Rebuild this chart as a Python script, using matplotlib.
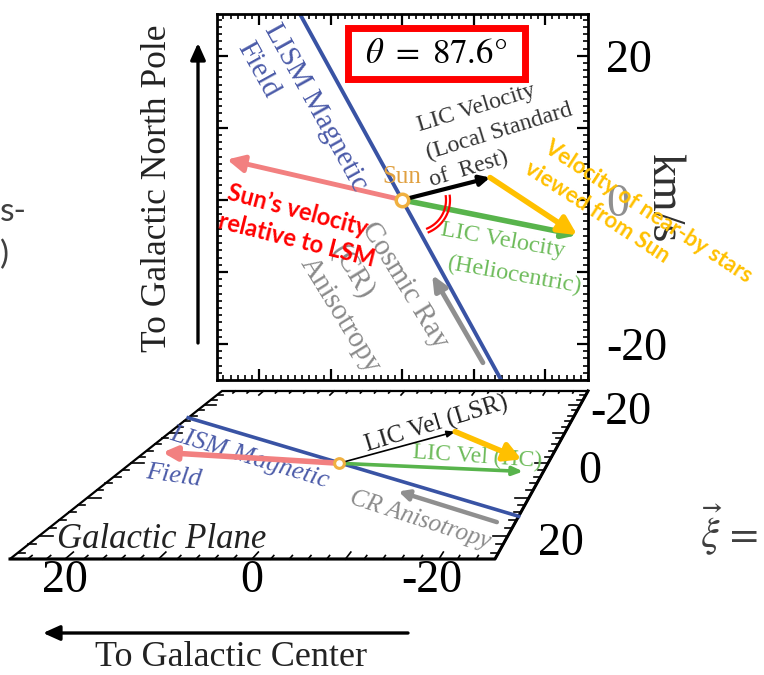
import matplotlib
matplotlib.use('agg')
import matplotlib.pyplot as plt
from matplotlib.patches import Rectangle, Polygon
from matplotlib.ticker import MultipleLocator
import numpy as np

plt.rcParams['font.family'] = 'Liberation Serif'
plt.rcParams['mathtext.fontset'] = 'stix'

# upper panel: horizontal (x, reversed) vs galactic north (y), km/s
sun_vel = [24.5, 5.6]        # Sun's velocity relative to LSR
lic_lsr = [-12.3, 3.1]       # LIC velocity (local standard of rest)
lic_hc = [-24.5, -4.9]       # LIC velocity (heliocentric)
cr_tail = [-11.3, -22.6]     # cosmic ray anisotropy arrow
cr_head = [-4.2, -10.4]
field_dir = [14.3, 25.8]     # LISM magnetic field direction
theta_deg = 87.6
ytick_vals = [20, 10, 0, -10, -20]
ytick_text = ['20', '', '0', '', '-20']

# lower panel: galactic plane, (x, z) km/s
sun_vel_p = [23.6, -3.4]
lic_lsr_p = [-11.5, -10.3]
lic_hc_p = [-23.5, 2.5]
stars_tip_p = [-22.4, -1.2]
cr_tail_p = [-23.9, 16.5]
cr_head_p = [-10.1, 8.3]
field_p = [[25.9, -15.2], [-26.0, 15.0]]
xtick_p = [20, 0, -20]
ztick_p = [-20, 0, 20]

BLUE = '#3953a4'
BLUE_T = '#4a5aa8'
PINK = '#f28080'
GREEN = '#58b44c'
GREEN_T = '#6dbb5a'
ORANGE = '#ffc000'
GRAY = '#8f8f8f'
GRAY_T = '#8a8a8a'

fig = plt.figure(figsize=(7.64, 6.75), dpi=100)

# background axes in pixel coordinates
axb = fig.add_axes([0, 0, 1, 1])
axb.set_xlim(0, 764)
axb.set_ylim(675, 0)
axb.axis('off')

# ---- perspective mapping for the galactic plane panel ----
TL = np.array([222., 391.]); TR = np.array([588., 391.])
BR = np.array([495., 559.]); BL = np.array([10., 559.])
XL, XR = 25.9, -26.0
ZB, ZF = -25.4, 25.4
w0, w1 = 1 / 366., 1 / 485.

def plane(x, z):
    u = (XL - x) / (XL - XR)
    v = (z - ZB) / (ZF - ZB)
    top = TL + u * (TR - TL)
    bot = BL + u * (BR - BL)
    a = (1 - v) * w0
    b = v * w1
    return (a * top + b * bot) / (a + b)

corners = [plane(XL, ZB), plane(XR, ZB), plane(XR, ZF), plane(XL, ZF)]
axb.add_patch(Polygon(corners, closed=True, fc='white', ec='black', lw=1.6, zorder=1))
axb.plot([corners[1][0], corners[2][0], corners[3][0]],
         [corners[1][1], corners[2][1], corners[3][1]], color='black', lw=2.2, zorder=2)

# edge ticks
for xv in np.arange(-24, 25, 2):
    ln = 1.6 if xv % 10 == 0 else 0.8
    for z0, dz in [(ZB, ln), (ZF, -ln)]:
        p, q = plane(xv, z0), plane(xv, z0 + dz)
        axb.plot([p[0], q[0]], [p[1], q[1]], color='black', lw=1.2, zorder=2)
for zv in np.arange(-24, 25, 2):
    ln = 1.6 if zv % 10 == 0 else 0.8
    for x0, dx in [(XL, -ln), (XR, ln)]:
        p, q = plane(x0, zv), plane(x0 + dx, zv)
        axb.plot([p[0], q[0]], [p[1], q[1]], color='black', lw=1.2, zorder=2)

for xv in xtick_p:
    p = plane(xv, ZF)
    axb.text(p[0] - (7 if xv < 0 else 0), p[1] + 22, str(xv), fontsize=33,
             ha='center', va='center')
for zv in ztick_p:
    p = plane(XR, zv)
    axb.text(p[0] + 30 - (20 if zv < 0 else 0), p[1] + 8, str(zv), fontsize=33,
             ha='left', va='center')

# field line and vectors in the plane
f0, f1 = plane(*field_p[0]), plane(*field_p[1])
axb.plot([f0[0], f1[0]], [f0[1], f1[1]], color=BLUE, lw=2.6, zorder=3)

def parrow(tail, tip, color, lw, hl, hw, z=4):
    t, h = plane(*tail), plane(*tip)
    axb.annotate('', xy=h, xytext=t, zorder=z,
                 arrowprops=dict(arrowstyle='-|>,head_length=%g,head_width=%g' % (hl, hw),
                                 color=color, lw=lw, shrinkA=0, shrinkB=0))

parrow([0, 0], sun_vel_p, PINK, 4.0, 0.8, 0.4)
parrow([0, 0], lic_hc_p, GREEN, 2.6, 0.6, 0.25)
parrow([0, 0], lic_lsr_p, 'black', 1.2, 0.5, 0.2)
parrow(lic_lsr_p, stars_tip_p, ORANGE, 4.0, 1.0, 0.55, z=5)
parrow(cr_tail_p, cr_head_p, GRAY, 3.2, 0.6, 0.3)
s = plane(0, 0)
axb.plot(s[0], s[1], 'o', ms=7, mfc='white', mec='#f0b040', mew=2.2, zorder=6)

axb.text(250, 458, 'LISM Magnetic', color=BLUE_T, fontsize=19, style='italic',
         rotation=-17, ha='center', va='center', rotation_mode='anchor', zorder=3)
axb.text(174, 476, 'Field', color=BLUE_T, fontsize=19, style='italic',
         rotation=-8, ha='center', va='center', rotation_mode='anchor', zorder=3)
axb.text(437, 424, 'LIC Vel (LSR)', color='#222222', fontsize=18,
         rotation=17, ha='center', va='center', rotation_mode='anchor', zorder=3)
axb.text(477, 457, 'LIC Vel (HC)', color=GREEN_T, fontsize=17,
         rotation=-4, ha='center', va='center', rotation_mode='anchor', zorder=3)
axb.text(420, 520, 'CR Anisotropy', color=GRAY_T, fontsize=18, style='italic',
         rotation=-18, ha='center', va='center', rotation_mode='anchor', zorder=3)
axb.text(162, 540, 'Galactic Plane', color='#222222', fontsize=25, style='italic',
         ha='center', va='center', zorder=3)

# outside labels and direction arrows
axb.text(157, 188, 'To Galactic North Pole', fontsize=25.5, rotation=90,
         ha='center', va='center', color='#222222')
axb.annotate('', xy=(198, 43), xytext=(198, 343),
             arrowprops=dict(arrowstyle='-|>,head_length=1.0,head_width=0.45',
                             color='black', lw=2.4, shrinkA=0, shrinkB=0))
axb.text(231, 657, 'To Galactic Center', fontsize=26, ha='center', va='center',
         color='#222222')
axb.annotate('', xy=(43, 633), xytext=(408, 633),
             arrowprops=dict(arrowstyle='-|>,head_length=1.0,head_width=0.45',
                             color='black', lw=2.4, shrinkA=0, shrinkB=0))
axb.text(663, 198, 'km/s', fontsize=33, rotation=270, ha='center', va='center',
         color='#303030')
axb.text(0, 212, 's-', fontsize=24, family='Lato', ha='left', va='center', color='#404040')
axb.text(0, 255, ')', fontsize=24, family='Lato', ha='left', va='center', color='#404040')
axb.text(700, 530, r'$\vec{\xi}\,=$', fontsize=30, ha='left', va='center', color='#404040')

# ---- upper panel as a real axes ----
ax = fig.add_axes([217 / 764, 1 - 380 / 675, 371 / 764, 366 / 675])
ax.set_xlim(25.9, -26.0)
ax.set_ylim(-25.0, 25.8)
ax.xaxis.set_major_locator(MultipleLocator(10))
ax.xaxis.set_minor_locator(MultipleLocator(1))
ax.set_yticks(ytick_vals)
ax.set_yticklabels(ytick_text)
ax.yaxis.set_minor_locator(MultipleLocator(1))
ax.tick_params(which='both', direction='in', top=True, bottom=True, left=True, right=True,
               labelbottom=False, labelleft=False, labelright=True)
ax.tick_params(which='major', length=8, width=1.6, pad=13, labelsize=33)
ax.tick_params(which='minor', length=3.5, width=1.2)
for sp in ax.spines.values():
    sp.set_linewidth(2.0)
for lab in ax.get_yticklabels():
    if lab.get_text() == '0':
        lab.set_color('#909090')

ax.plot([field_dir[0], -field_dir[0]], [field_dir[1], -field_dir[1]], color=BLUE, lw=2.8, zorder=2)

def uarrow(tail, tip, color, lw, hl, hw, z=4):
    ax.annotate('', xy=tip, xytext=tail, zorder=z,
                arrowprops=dict(arrowstyle='-|>,head_length=%g,head_width=%g' % (hl, hw),
                                color=color, lw=lw, shrinkA=0, shrinkB=0))

uarrow([0, 0], sun_vel, PINK, 3.5, 1.0, 0.5)
uarrow([0, 0], lic_hc, GREEN, 4.0, 0.8, 0.35)
uarrow([0, 0], lic_lsr, 'black', 3.0, 0.6, 0.3)
uarrow(lic_lsr, lic_hc, ORANGE, 4.0, 1.1, 0.55, z=5)
uarrow(cr_tail, cr_head, GRAY, 3.5, 0.9, 0.4)
ax.plot(0, 0, 'o', ms=9, mfc='white', mec='#f0b040', mew=2.5, zorder=6)

# ---- overlay texts (pixel coordinates) ----
axt = fig.add_axes([0, 0, 1, 1], zorder=10)
axt.set_xlim(0, 764)
axt.set_ylim(675, 0)
axt.axis('off')

def label(x, y, s, color, size, rot, **kw):
    axt.text(x, y, s, color=color, fontsize=size, rotation=rot, ha='center', va='center',
             rotation_mode='anchor', **kw)

label(316, 107, 'LISM Magnetic', BLUE_T, 21, -61)
label(258, 70, 'Field', BLUE_T, 21, -61)
label(402, 177, 'Sun', '#e0a040', 18, 0)
label(476, 108, 'LIC Velocity', '#333333', 17, 17)
label(499, 132, '(Local Standard', '#333333', 17, 17)
label(469, 169, 'of  Rest)', '#333333', 17, 17)
label(503, 241, 'LIC Velocity', GREEN_T, 17.5, -10)
label(515, 275, '(Heliocentric)', GREEN_T, 17.5, -10)
label(405, 285, 'Cosmic Ray', GRAY_T, 21, -58.5)
label(352, 272, '(CR)', GRAY_T, 21, -58.5)
label(340, 315, 'Anisotropy', GRAY_T, 21, -58.5)
label(298, 210, 'Sun\u2019s velocity', '#ff0000', 17, -15, family='Lato', weight='bold')
label(297, 240, 'relative to LSM', '#ff0000', 17, -14, family='Lato', weight='bold')
label(648, 212, 'Velocity of near-by stars', ORANGE, 16, -33, family='Lato', weight='bold')
label(597, 212, 'viewed from Sun', ORANGE, 16, -33, family='Lato', weight='bold')

# angle marker (double arc)
for r in [31, 35]:
    a = np.radians(np.linspace(-7, 67, 40))
    axt.plot(415 + r * np.cos(a), 200 + r * np.sin(a), color='#ff0000', lw=1.6)

# theta box
axt.add_patch(Rectangle((348, 28), 177, 51, fc='white', ec='#ff0000', lw=5))
axt.text(436, 55, r'$\theta\ =\ 87.6$°', fontsize=25, ha='center', va='center',
         family='STIXGeneral')

fig.savefig('out.png', dpi=100)
